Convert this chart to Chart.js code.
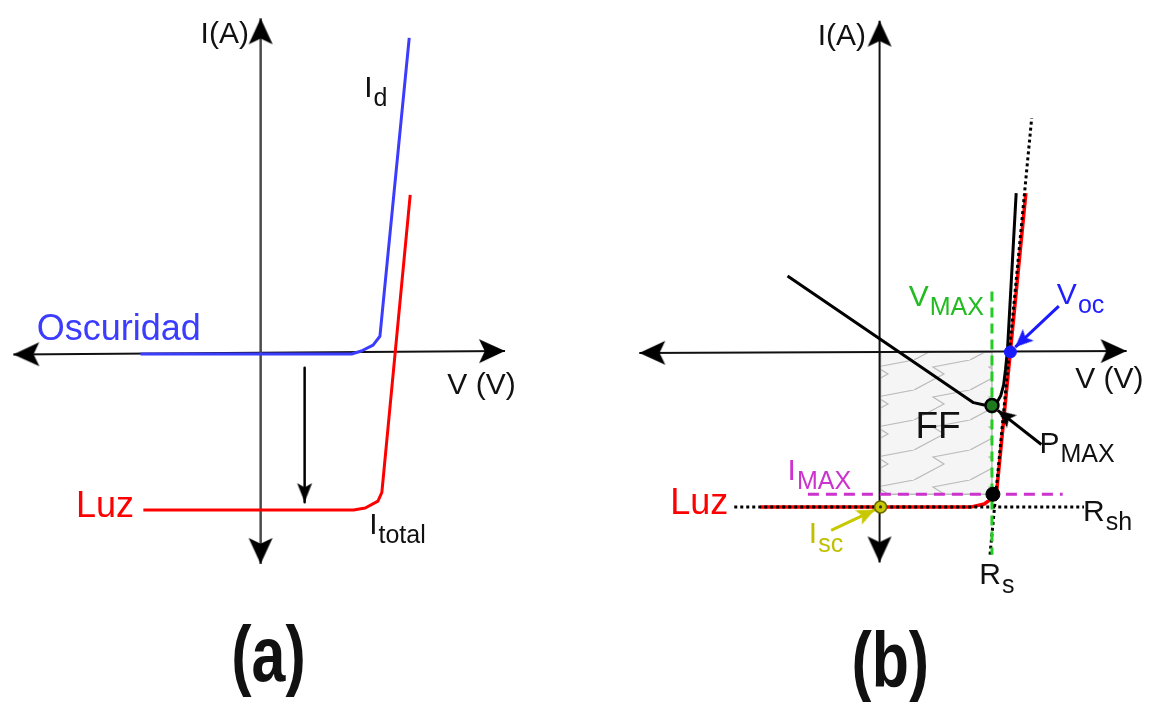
<!DOCTYPE html>
<html>
<head>
<meta charset="utf-8">
<title>Curvas I-V de una celda solar</title>
<script src="https://cdn.jsdelivr.net/npm/chart.js@4.4.1/dist/chart.umd.min.js"></script>
<style>
  body { margin: 0; background: #fff; }
  #wrap { position: relative; width: 1155px; height: 702px; overflow: hidden; }
  canvas { position: absolute; top: 0; }
  #panel-a { left: 0; }
  #panel-b { left: 578px; }
</style>
</head>
<body>
<div id="wrap">
  <canvas id="panel-a" width="578" height="702"></canvas>
  <canvas id="panel-b" width="577" height="702"></canvas>
</div>
<script>
// Units are arbitrary (no ticks on either axis); the axes cross at V = 0, I = 0.

// Panel (a): dark and illuminated diode curves
const darkV  = [-12.3, 9.3, 10.3, 11.5, 12.2, 15.2];
const darkI  = [-0.1, -0.1, 0.2, 0.8, 1.7, 32.1];
const lightV = [-12.0, 9.5, 10.7, 12.0, 12.4, 15.3];
const lightI = [-16.0, -16.0, -15.8, -15.1, -14.2, 16.1];
const shiftV = [4.5, 4.5];
const shiftI = [-1.5, -15.2];

// Panel (b): illuminated cell, power curve and the characteristic points
const cellV  = [-12.3, 9.5, 10.8, 11.5, 12.1, 15.1];
const cellI  = [-15.9, -15.9, -15.6, -15.1, -14.2, 16.3];
const powerV = [-9.5, 9.7, 10.8, 11.6, 12.1, 12.5, 12.8, 13.0, 13.2, 14.1];
const powerI = [7.8, -5.2, -5.45, -5.5, -5.2, -4.5, -3.4, -1.8, 0.2, 16.3];
const rshV = [-15.0, 21.1];
const rshI = [-15.9, -15.9];
const rsV  = [11.4, 15.7];
const rsI  = [-20.8, 24.0];
const vmaxV = [11.6, 11.6];
const vmaxI = [6.2, -20.8];
const imaxV = [-7.4, 18.9];
const imaxI = [-14.6, -14.6];
const ffV = [0.1, 11.6, 11.6, 0.1, 0.1];
const ffI = [0, 0, -14.6, -14.6, 0];
const iscPoint  = [0.1, -15.9];
const kneePoint = [11.7, -14.6];
const pmaxPoint = [11.6, -5.5];
const vocPoint  = [13.5, 0.0];
const iscArrowV  = [-5.0, -0.5];
const iscArrowI  = [-18.3, -16.2];
const vocArrowV  = [18.5, 14.0];
const vocArrowI  = [4.7, 0.5];
const pmaxArrowV = [16.7, 12.2];
const pmaxArrowI = [-9.5, -6.0];

// Axes (with a slight tilt on the horizontal one of panel a)
const axisA = { h: [[-25.3, -0.15], [25.0, 0.2]], v: [[0, -21.5], [0, 34.1]] };
const axisB = { h: [[-24.8, -0.1], [25.5, 0.1]], v: [[0, -21.6], [0, 34.0]] };

// Text labels: [text, subscript, x, y(baseline), size, colour, align]
const labelsA = [
    ['I(A)', '', -1.2, 31.6, 30, '#111', 'right'],
    ['V (V)', '', 19.1, -4.2, 30, '#111', 'left'],
    ['Oscuridad', '', -22.9, 1.3, 36, '#3c3cff', 'left'],
    ['Luz', '', -18.9, -16.7, 36, '#ff0000', 'left'],
    ['I', 'd', 10.6, 26.1, 30, '#111', 'left'],
    ['I', 'total', 11.1, -18.4, 30, '#111', 'left']
];
const labelsB = [
    ['I(A)', '', -1.4, 31.5, 30, '#111', 'right'],
    ['V (V)', '', 20.2, -3.7, 30, '#111', 'left'],
    ['V', 'MAX', 3.0, 4.7, 30, '#22bb22', 'left'],
    ['V', 'oc', 18.3, 4.9, 30, '#2020ff', 'left'],
    ['FF', '', 3.7, -8.8, 37, '#111', 'left'],
    ['P', 'MAX', 16.5, -10.4, 30, '#111', 'left'],
    ['I', 'MAX', -9.5, -13.1, 30, '#cc33cc', 'left'],
    ['Luz', '', -21.6, -16.6, 36, '#ff0000', 'left'],
    ['R', 'sh', 21.0, -17.3, 30, '#111', 'left'],
    ['I', 'sc', -7.3, -19.6, 30, '#c0c000', 'left'],
    ['R', 's', 10.3, -23.8, 30, '#111', 'left']
];
const panelTitles = { a: ['(a)', 0.8, -33.4], b: ['(b)', 1.1, -34.4] };

function pts(xs, ys) {
    return xs.map((x, i) => ({ x: x, y: ys[i] }));
}

// Arrow head drawn pointing up, tip at the canvas centre so it rotates around the tip
function makeHead(color, w, len) {
    const size = Math.ceil(Math.max(len * 2, w) + 4);
    const c = document.createElement('canvas');
    c.width = size;
    c.height = size;
    const g = c.getContext('2d');
    const m = size / 2;
    g.fillStyle = color;
    g.beginPath();
    g.moveTo(m, m);
    g.lineTo(m + w / 2, m + len);
    g.lineTo(m, m + len * 0.78);
    g.lineTo(m - w / 2, m + len);
    g.closePath();
    g.fill();
    return c;
}

// Rotation of a head so that it follows its segment on screen
function headAngle(ctx) {
    const i = ctx.dataIndex;
    if (i === undefined) return 0;
    const data = ctx.dataset.data;
    const j = i === 0 ? 1 : i - 1;
    const sx = ctx.chart.scales.x;
    const sy = ctx.chart.scales.y;
    const dx = sx.getPixelForValue(data[i].x) - sx.getPixelForValue(data[j].x);
    const dy = sy.getPixelForValue(data[i].y) - sy.getPixelForValue(data[j].y);
    return Math.atan2(dx, -dy) * 180 / Math.PI;
}

function lineSet(data, color, width, order, dash) {
    return {
        data: data,
        showLine: true,
        borderColor: color,
        borderWidth: width,
        borderDash: dash || [],
        borderCapStyle: 'butt',
        borderJoinStyle: 'round',
        pointRadius: 0,
        fill: false,
        order: order
    };
}

function arrowSet(data, color, width, head, ends, order) {
    const ds = lineSet(data, color, width, order);
    ds.pointStyle = head;
    ds.pointRadius = ctx => ends.includes(ctx.dataIndex) ? 1 : 0;
    ds.pointRotation = headAngle;
    return ds;
}

function markerSet(p, radius, fill, border, bw, order) {
    return {
        data: [{ x: p[0], y: p[1] }],
        pointRadius: radius,
        pointBackgroundColor: fill,
        pointBorderColor: border,
        pointBorderWidth: bw,
        order: order
    };
}

// Light grey zig-zag hatch used for the fill factor area
function makeZigzag(chartCtx) {
    const c = document.createElement('canvas');
    c.width = 56;
    c.height = 30;
    const g = c.getContext('2d');
    g.fillStyle = '#f5f5f5';
    g.fillRect(0, 0, 56, 30);
    g.strokeStyle = '#bbbbbb';
    g.lineWidth = 1.2;
    g.beginPath();
    g.moveTo(0, 30);
    g.lineTo(30, 14);
    g.lineTo(19, 7);
    g.lineTo(56, 0);
    g.stroke();
    return chartCtx.createPattern(c, 'repeat');
}

// Draws the labels (with optional subscript) at data coordinates
function textPlugin(items, title) {
    return {
        id: 'textLabels',
        afterDatasetsDraw(chart) {
            const ctx = chart.ctx;
            const sx = chart.scales.x;
            const sy = chart.scales.y;
            ctx.save();
            ctx.textBaseline = 'alphabetic';
            items.forEach(item => {
                const [text, sub, x, y, size, color, align] = item;
                const subSize = Math.round(size * 0.83);
                ctx.font = size + 'px "Liberation Sans", Arial, sans-serif';
                const w = ctx.measureText(text).width;
                ctx.font = subSize + 'px "Liberation Sans", Arial, sans-serif';
                const sw = sub ? ctx.measureText(sub).width : 0;
                let px = sx.getPixelForValue(x);
                const py = sy.getPixelForValue(y);
                if (align === 'right') px -= w + sw;
                ctx.fillStyle = color;
                ctx.textAlign = 'left';
                ctx.font = size + 'px "Liberation Sans", Arial, sans-serif';
                ctx.fillText(text, px, py);
                if (sub) {
                    ctx.font = subSize + 'px "Liberation Sans", Arial, sans-serif';
                    ctx.fillText(sub, px + w + 1, py + size * 0.3);
                }
            });
            // panel letter, condensed horizontally
            ctx.fillStyle = '#111';
            ctx.textAlign = 'center';
            ctx.font = 'bold 78px "Liberation Sans", Arial, sans-serif';
            ctx.translate(sx.getPixelForValue(title[1]), sy.getPixelForValue(title[2]));
            ctx.scale(0.78, 1);
            ctx.fillText(title[0], 0, 0);
            ctx.restore();
        }
    };
}

function baseOptions(xmin, xmax, ymin, ymax) {
    return {
        responsive: false,
        animation: false,
        devicePixelRatio: 1,
        events: [],
        layout: { padding: 0 },
        plugins: {
            legend: { display: false },
            tooltip: { enabled: false }
        },
        scales: {
            x: { type: 'linear', display: false, min: xmin, max: xmax },
            y: { type: 'linear', display: false, min: ymin, max: ymax }
        }
    };
}

const bigHead = makeHead('#000', 24, 26);
const smallHead = makeHead('#000', 15, 19);

// Panel (a)
function drawPanelA() {
    const ctx = document.getElementById('panel-a').getContext('2d');
    new Chart(ctx, {
        type: 'scatter',
        data: {
            datasets: [
                arrowSet(axisA.h.map(p => ({ x: p[0], y: p[1] })), '#111', 2, bigHead, [0, 1], 9),
                arrowSet(axisA.v.map(p => ({ x: p[0], y: p[1] })), '#4a4a4a', 2.5, bigHead, [0, 1], 8),
                lineSet(pts(darkV, darkI), '#3c3cff', 3, 5),
                lineSet(pts(lightV, lightI), '#ff0000', 3, 4),
                arrowSet(pts(shiftV, shiftI), '#000', 2.5, smallHead, [1], 3)
            ]
        },
        options: baseOptions(-26.0, 31.8, -34.9, 35.3),
        plugins: [textPlugin(labelsA, panelTitles.a)]
    });
}

// Panel (b)
function drawPanelB() {
    const ctx = document.getElementById('panel-b').getContext('2d');
    const ff = lineSet(pts(ffV, ffI), '#bdbdbd', 1.5, 20);
    ff.fill = 'shape';
    ff.backgroundColor = makeZigzag(ctx);

    new Chart(ctx, {
        type: 'scatter',
        data: {
            datasets: [
                ff,
                arrowSet(axisB.h.map(p => ({ x: p[0], y: p[1] })), '#111', 2, bigHead, [0, 1], 19),
                arrowSet(axisB.v.map(p => ({ x: p[0], y: p[1] })), '#111', 2, bigHead, [0, 1], 18),
                lineSet(pts(imaxV, imaxI), '#cc33cc', 3, 17, [11, 7]),
                lineSet(pts(cellV, cellI), '#ff0000', 3.5, 16),
                lineSet(pts(rshV, rshI), '#000', 3, 15, [3, 3]),
                lineSet(pts(rsV, rsI), '#000', 3, 14, [3, 3]),
                lineSet(pts(vmaxV, vmaxI), '#22cc22', 3, 13, [10, 6]),
                lineSet(pts(powerV, powerI), '#000', 3, 12),
                arrowSet(pts(iscArrowV, iscArrowI), '#c8c800', 3, makeHead('#c8c800', 16, 18), [1], 11),
                arrowSet(pts(vocArrowV, vocArrowI), '#1a1aff', 3, makeHead('#1a1aff', 16, 18), [1], 10),
                arrowSet(pts(pmaxArrowV, pmaxArrowI), '#000', 3, makeHead('#000', 16, 18), [1], 9),
                markerSet(iscPoint, 6, '#c8c800', '#6b6b00', 1.5, 5),
                markerSet(iscPoint, 1.6, '#333', '#333', 0, 4),
                markerSet(kneePoint, 7, '#000', '#000', 1, 3),
                markerSet(pmaxPoint, 6.5, '#1f7a1f', '#000', 2.5, 2),
                markerSet(vocPoint, 6, '#1a1aff', '#1a1aff', 1, 1)
            ]
        },
        options: baseOptions(-30.2, 27.5, -35.0, 35.2),
        plugins: [textPlugin(labelsB, panelTitles.b)]
    });
}

drawPanelA();
drawPanelB();
</script>
</body>
</html>
